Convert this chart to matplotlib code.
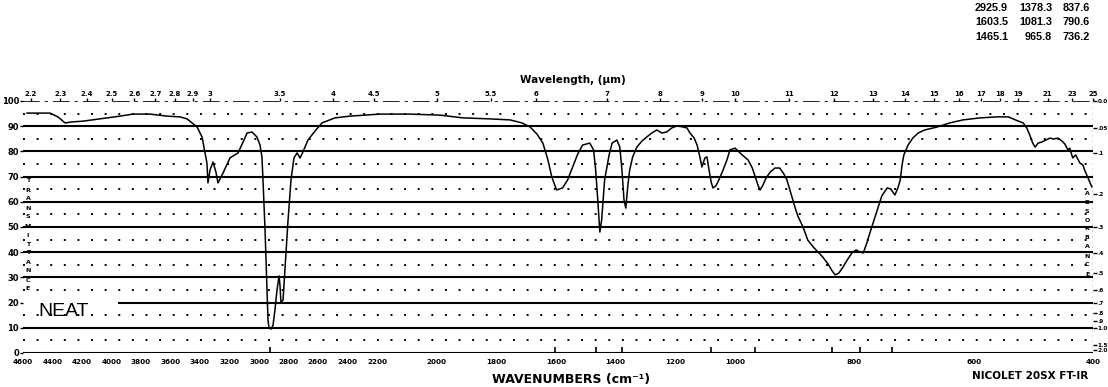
import numpy as np
import matplotlib
matplotlib.use('Agg')
import matplotlib.pyplot as plt

plt.rcParams['font.family'] = ['DejaVu Sans']

# spectrum: wavenumber (cm-1) and % transmittance
wavenumber = [4573, 4417, 4363, 4315, 4268, 4193, 4078, 3942, 3854, 3739, 3624, 3536, 3488,
              3420, 3386, 3373, 3353, 3346, 3332, 3312, 3292, 3278, 3244, 3197, 3142, 3102,
              3081, 3047, 3014, 2993, 2980, 2973, 2959, 2946, 2939, 2932, 2919, 2905, 2892,
              2878, 2864, 2858, 2851, 2837, 2824, 2803, 2783, 2763, 2742, 2722, 2702, 2668,
              2620, 2573, 2485, 2383, 2190, 2089, 1989, 1912, 1821, 1754, 1714, 1687, 1664,
              1644, 1627, 1614, 1598, 1578, 1561, 1544, 1527, 1511, 1487, 1474, 1467, 1460,
              1453, 1447, 1437, 1422, 1412, 1396, 1386, 1379, 1372, 1366, 1359, 1353, 1343,
              1329, 1312, 1296, 1279, 1262, 1245, 1229, 1212, 1195, 1174, 1161, 1151, 1137,
              1127, 1117, 1111, 1101, 1094, 1087, 1080, 1074, 1064, 1054, 1040, 1027, 1017,
              1000, 988, 978, 971, 966, 961, 958, 953, 948, 941, 933, 925, 918, 913, 908, 903,
              898, 894, 886, 878, 869, 861, 853, 844, 837, 832, 826, 819, 812, 804, 797, 791,
              785, 779, 774, 767, 760, 754, 745, 739, 732, 727, 723, 720, 717, 710, 702, 693,
              682, 661, 640, 618, 589, 561, 542, 534, 526, 517, 511, 506, 501, 497, 492, 486,
              479, 472, 466, 459, 452, 447, 442, 439, 434, 429, 422, 417, 414, 409, 402]
transmittance = [95.2, 95.2, 93.7, 91.3, 91.7, 92.0, 92.9, 94.0, 94.8, 94.8, 94.0, 93.7, 92.9,
                 89.7, 85.7, 81.7, 75.4, 67.5, 72.6, 75.8, 71.8, 67.5, 71.4, 77.4, 79.4, 84.5,
                 87.3, 87.7, 85.7, 82.5, 77.8, 68.7, 48.8, 25.0, 13.0, 9.9, 9.5, 11.0, 17.0,
                 25.0, 30.6, 27.0, 20.0, 21.0, 33.0, 52.8, 68.7, 77.4, 79.4, 77.4, 79.8, 84.5,
                 88.1, 91.3, 93.3, 94.0, 94.8, 94.8, 94.4, 93.3, 92.9, 92.5, 91.3, 89.7, 86.9,
                 83.3, 76.6, 69.8, 64.7, 65.5, 68.7, 73.8, 79.0, 82.5, 83.3, 80.6, 72.6, 60.7,
                 48.0, 52.8, 68.7, 78.6, 83.3, 84.5, 81.7, 72.6, 60.7, 57.5, 66.7, 72.6, 77.8,
                 81.7, 84.1, 85.7, 87.3, 88.5, 87.3, 87.7, 89.3, 90.1, 89.7, 89.3, 87.3, 85.3,
                 82.5, 77.4, 73.8, 77.4, 77.8, 72.6, 67.9, 65.5, 66.3, 68.7, 72.6, 76.6, 80.6,
                 81.3, 78.6, 76.6, 73.4, 69.8, 66.3, 64.7, 66.7, 69.4, 71.8, 73.4, 73.4, 71.0,
                 68.7, 64.7, 60.7, 56.7, 54.0, 50.0, 44.8, 42.1, 40.1, 38.1, 35.3, 32.5, 31.0,
                 31.7, 34.1, 36.9, 39.7, 40.9, 40.1, 39.7, 43.7, 47.6, 52.8, 57.9, 62.3, 65.5,
                 65.1, 62.7, 65.5, 68.7, 74.6, 78.6, 82.5, 85.3, 87.3, 88.5, 89.7, 91.3, 92.5,
                 93.3, 93.7, 93.7, 92.9, 92.1, 91.3, 89.3, 86.5, 83.3, 81.7, 83.3, 83.7, 84.5,
                 85.3, 84.9, 85.3, 84.1, 82.9, 80.6, 81.3, 77.4, 78.6, 75.4, 74.6, 72.6, 69.8,
                 65.9]

# peak table (printed top right, 3 rows x 3 columns) and peak marks
peak_rows = [["2925.9", "1378.3", "837.6"],
             ["1603.5", "1081.3", "790.6"],
             ["1465.1", "965.8", "736.2"]]
peaks = [float(p) for row in peak_rows for p in row]

wn_ticks = [4600, 4400, 4200, 4000, 3800, 3600, 3400, 3200, 3000, 2800, 2600, 2400, 2200,
            2000, 1800, 1600, 1400, 1200, 1000, 800, 600, 400]
um_ticks = [2.2, 2.3, 2.4, 2.5, 2.6, 2.7, 2.8, 2.9, 3, 3.5, 4, 4.5, 5, 5.5, 6, 7, 8, 9, 10,
            11, 12, 13, 14, 15, 16, 17, 18, 19, 21, 23, 25]
t_ticks = [0, 10, 20, 30, 40, 50, 60, 70, 80, 90, 100]
abs_ticks = [0.0, 0.05, 0.1, 0.2, 0.3, 0.4, 0.5, 0.6, 0.7, 0.8, 0.9, 1.0, 1.5, 2.0]
abs_labels = ['0.0', '.05', '.1', '.2', '.3', '.4', '.5', '.6', '.7', '.8', '.9', '1.0', '1.5', '2.0']

# chart paper: piecewise linear wavenumber scale (changes at 2200 and 1000)
s1, s2, s3 = 354 / 2400, 358 / 1200, 358 / 600


def fwd(w):
    # increasing in w; the axis is inverted by the limits
    w = np.asarray(w, dtype=float)
    p = np.where(w > 2200, (4600 - w) * s1,
                 np.where(w > 1000, 354 + (2200 - w) * s2, 712 + (1000 - w) * s3))
    return -p


def inv(q):
    p = -np.asarray(q, dtype=float)
    return np.where(p < 354, 4600 - p / s1,
                    np.where(p < 712, 2200 - (p - 354) / s2, 1000 - (p - 712) / s3))


W, H = 1108, 387
fig = plt.figure(figsize=(W / 100, H / 100), dpi=100)
ax = fig.add_axes([23 / W, 34 / H, 1070 / W, 252 / H])
ax.set_xscale('function', functions=(fwd, inv))
ax.set_xlim(4600, 400)
ax.set_ylim(0, 100)
for s in ax.spines.values():
    s.set_visible(False)

# grid of the chart paper
for v in range(0, 100, 10):
    xmin = 0.09 if v == 20 else 0
    ax.axhline(v, xmin=xmin, color='black', lw=1.5)
ax.axhline(100, color='black', lw=1.2, ls=(0, (10, 3, 2, 3)))
for v in range(5, 100, 10):
    ax.axhline(v, color='black', lw=1.4, ls=(0, (1, 6)))
ax.axvline(400, color='black', lw=1, ls=(0, (1, 3)))

ax.plot(wavenumber, transmittance, color='black', lw=1.1)
ax.vlines(peaks, 0, 2.2, color='black', lw=1.2)

ax.set_xticks(wn_ticks)
ax.set_xticklabels([str(t) for t in wn_ticks], fontsize=5.2, fontweight='bold')
ax.tick_params(axis='x', length=0, pad=4)
ax.set_yticks(t_ticks)
ax.set_yticklabels([str(t) for t in t_ticks], fontsize=6, fontweight='bold')
ax.tick_params(axis='y', length=2, width=1, pad=0.8)
ax.set_xlabel('WAVENUMBERS (cm⁻¹)', fontsize=9, fontweight='bold')
ax.xaxis.set_label_coords((571 - 23) / 1070, -(373 - 353) / 252)

# wavelength axis on top
top = ax.twiny()
top.set_xscale('function', functions=(fwd, inv))
top.set_xlim(4600, 400)
for s in top.spines.values():
    s.set_visible(False)
top.set_xticks([1e4 / u for u in um_ticks])
top.set_xticklabels([f'{u:g}' for u in um_ticks], fontsize=5, fontweight='bold')
top.tick_params(axis='x', length=2, width=1, pad=1)
top.set_xlabel('Wavelength, (µm)', fontsize=7.5, fontweight='bold')
top.xaxis.set_label_coords((573 - 23) / 1070, 1 + (101 - 83) / 252)

# absorbance scale on the right
right = ax.twinx()
right.set_ylim(0, 100)
for s in right.spines.values():
    s.set_visible(False)
right.set_yticks([100 * 10 ** (-a) for a in abs_ticks])
right.set_yticklabels(abs_labels, fontsize=4.2, fontweight='bold')
right.tick_params(axis='y', length=3, width=1, pad=0.3)


def fx(x):
    return x / W


def fy(y):
    return 1 - y / H


# vertical captions of the paper
for i, ch in enumerate('TRANSMITTANCE'):
    fig.text(fx(28), fy(181 + i * 9), ch, fontsize=4.5, fontweight='bold', ha='center', va='center')
for i, ch in enumerate('ABSORBANCE'):
    fig.text(fx(1087), fy(193 + i * 9), ch, fontsize=4.5, fontweight='bold', ha='center', va='center')

fig.text(fx(38), fy(316), 'NEAT', fontsize=14, family='Liberation Sans', ha='left', va='baseline')
fig.text(fx(1030), fy(376), 'NICOLET 20SX FT-IR', fontsize=7.5, fontweight='bold', ha='center', va='center')

col_right = [1008, 1052, 1090]
row_y = [8, 22, 37]
for r, row in enumerate(peak_rows):
    for c, val in enumerate(row):
        fig.text(fx(col_right[c]), fy(row_y[r]), val, fontsize=7.8, family='Liberation Sans',
                 fontweight='bold', ha='right', va='center')

fig.savefig('out.png', dpi=100)
